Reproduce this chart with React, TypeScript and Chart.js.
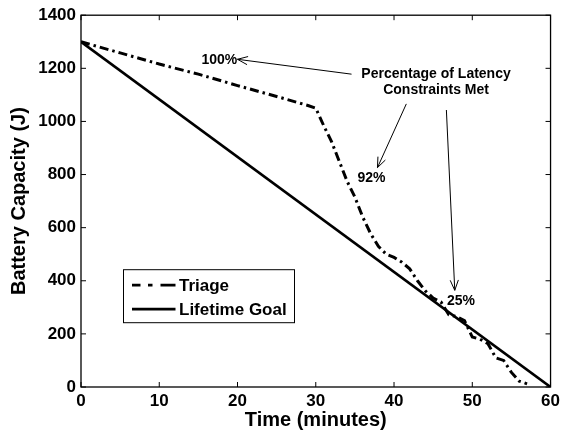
import { useEffect, useRef } from "react";
import { Chart, registerables } from "chart.js";

Chart.register(...registerables);

const FONT = '"Liberation Sans", Arial, Helvetica, sans-serif';

// Triage battery drain (minutes, joules)
const triageTime = [0, 5, 10, 15, 20, 25, 29, 30, 31, 32, 33, 34, 35, 36, 37, 38, 39, 40, 41, 42, 43, 44, 45, 46, 47, 48, 49, 50, 51, 52, 53, 54, 55, 56, 57];
const triageCapacity = [1300, 1258, 1216, 1178, 1135, 1094, 1060, 1050, 985, 925, 850, 775, 715, 640, 578, 530, 500, 488, 470, 445, 400, 362, 335, 320, 272, 265, 250, 188, 180, 163, 110, 100, 55, 22, 12];

// Linear lifetime goal
const goalTime = [0, 60];
const goalCapacity = [1300, 0];

const xTicksStep = 10;
const yTicksStep = 200;
const seriesNames = ["Triage", "Lifetime Goal"];

// Annotation texts anchored in data units
const percentLabels = ["100%", "92%", "25%"];
const percentLabelTime = [17.67, 37.12, 48.56];
const percentLabelCap = [1230, 788, 324];
const arrowTailTime = [34.57, 41.57, 46.69];
const arrowTailCap = [1178, 1066, 1043];
const arrowTipTime = [19.99, 37.88, 47.76];
const arrowTipCap = [1234, 826, 364];
const noteLines = ["Percentage of Latency", "Constraints Met"];
const noteTime = 45.37;
const noteCap = [1178, 1118];

const framePlugin = {
  id: "frameAndNotes",
  afterDatasetsDraw(chart: any) {
    const { ctx, chartArea } = chart;
    const { left, right, top, bottom } = chartArea;
    const xs = chart.scales.x;
    const ys = chart.scales.y;
    ctx.save();
    ctx.strokeStyle = "#000";
    ctx.fillStyle = "#000";

    // box
    ctx.lineWidth = 1.3;
    ctx.setLineDash([]);
    ctx.strokeRect(left, top, right - left, bottom - top);

    // inward tick marks on all sides
    const tl = 5;
    ctx.lineWidth = 1;
    ctx.beginPath();
    xs.ticks.forEach((t: any) => {
      const px = xs.getPixelForValue(t.value);
      ctx.moveTo(px, bottom);
      ctx.lineTo(px, bottom - tl);
      ctx.moveTo(px, top);
      ctx.lineTo(px, top + tl);
    });
    ys.ticks.forEach((t: any) => {
      const py = ys.getPixelForValue(t.value);
      ctx.moveTo(left, py);
      ctx.lineTo(left + tl, py);
      ctx.moveTo(right, py);
      ctx.lineTo(right - tl, py);
    });
    ctx.stroke();

    // arrows
    ctx.lineWidth = 1;
    for (let i = 0; i < arrowTipTime.length; i++) {
      const x0 = xs.getPixelForValue(arrowTailTime[i]);
      const y0 = ys.getPixelForValue(arrowTailCap[i]);
      const x1 = xs.getPixelForValue(arrowTipTime[i]);
      const y1 = ys.getPixelForValue(arrowTipCap[i]);
      const ang = Math.atan2(y1 - y0, x1 - x0);
      const hl = 11;
      const ha = 0.38;
      ctx.beginPath();
      ctx.moveTo(x0, y0);
      ctx.lineTo(x1, y1);
      ctx.moveTo(x1 - hl * Math.cos(ang - ha), y1 - hl * Math.sin(ang - ha));
      ctx.lineTo(x1, y1);
      ctx.lineTo(x1 - hl * Math.cos(ang + ha), y1 - hl * Math.sin(ang + ha));
      ctx.stroke();
    }

    // labels
    ctx.font = `bold 14px ${FONT}`;
    ctx.textAlign = "center";
    ctx.textBaseline = "middle";
    percentLabels.forEach((s, i) => {
      ctx.fillText(s, xs.getPixelForValue(percentLabelTime[i]), ys.getPixelForValue(percentLabelCap[i]));
    });
    noteLines.forEach((s, i) => {
      ctx.fillText(s, xs.getPixelForValue(noteTime), ys.getPixelForValue(noteCap[i]));
    });

    // legend
    const lx = left + 42;
    const ly = top + 254;
    const lw = 171;
    const lh = 53;
    ctx.fillStyle = "#fff";
    ctx.fillRect(lx, ly, lw, lh);
    ctx.lineWidth = 1;
    ctx.strokeStyle = "#000";
    ctx.strokeRect(lx + 0.5, ly + 0.5, lw, lh);
    const y1 = ly + 16;
    const y2 = ly + 40;
    ctx.lineWidth = 2.8;
    ctx.beginPath();
    ctx.moveTo(lx + 9, y1);
    ctx.lineTo(lx + 17.5, y1);
    ctx.moveTo(lx + 25, y1);
    ctx.lineTo(lx + 29.5, y1);
    ctx.moveTo(lx + 37.5, y1);
    ctx.lineTo(lx + 52.5, y1);
    ctx.moveTo(lx + 9, y2);
    ctx.lineTo(lx + 52.5, y2);
    ctx.stroke();
    ctx.fillStyle = "#000";
    ctx.font = `bold 17px ${FONT}`;
    ctx.textAlign = "left";
    ctx.fillText(seriesNames[0], lx + 56, y1 + 1);
    ctx.fillText(seriesNames[1], lx + 56, y2 + 1);
    ctx.restore();
  },
};

export default function App() {
  const ref = useRef<HTMLCanvasElement | null>(null);

  useEffect(() => {
    if (!ref.current) return;
    const tickFont = { family: FONT, size: 17, weight: "bold" as const };
    const titleFont = { family: FONT, size: 20, weight: "bold" as const };
    const plain = (v: any) => String(v);
    const chart = new Chart(ref.current, {
      type: "line",
      data: {
        datasets: [
          {
            label: seriesNames[0],
            data: triageTime.map((t, i) => ({ x: t, y: triageCapacity[i] })),
            borderColor: "#000",
            borderWidth: 3,
            borderDash: [9, 4, 2.5, 4],
            borderCapStyle: "butt",
            pointRadius: 0,
            tension: 0,
            fill: false,
          },
          {
            label: seriesNames[1],
            data: goalTime.map((t, i) => ({ x: t, y: goalCapacity[i] })),
            borderColor: "#000",
            borderWidth: 2.7,
            pointRadius: 0,
            tension: 0,
            fill: false,
          },
        ],
      },
      options: {
        responsive: false,
        animation: false,
        devicePixelRatio: 1,
        layout: { padding: { left: 0, top: 14, right: 11, bottom: 0 } },
        plugins: { legend: { display: false }, tooltip: { enabled: false } },
        scales: {
          x: {
            type: "linear",
            min: 0,
            max: 60,
            grid: { display: false, drawTicks: false, tickLength: 0 },
            border: { display: false },
            ticks: { stepSize: xTicksStep, padding: 4, color: "#000", font: tickFont, maxRotation: 0, callback: plain },
            title: { display: true, text: "Time (minutes)", color: "#000", font: titleFont, padding: { top: 0, bottom: 0 } },
            afterFit: (s: any) => {
              s.height = 45;
            },
          },
          y: {
            type: "linear",
            min: 0,
            max: 1400,
            grid: { display: false, drawTicks: false, tickLength: 0 },
            border: { display: false },
            ticks: { stepSize: yTicksStep, padding: 5, color: "#000", font: tickFont, callback: plain },
            title: { display: true, text: "Battery Capacity (J)", color: "#000", font: titleFont, padding: { top: 7, bottom: 0 } },
            afterFit: (s: any) => {
              s.width = 81;
            },
          },
        },
      },
      plugins: [framePlugin],
    });
    return () => chart.destroy();
  }, []);

  return (
    <div style={{ position: "absolute", left: 0, top: 0, width: 564, height: 432, background: "#fff" }}>
      <canvas ref={ref} width={564} height={432} />
    </div>
  );
}
